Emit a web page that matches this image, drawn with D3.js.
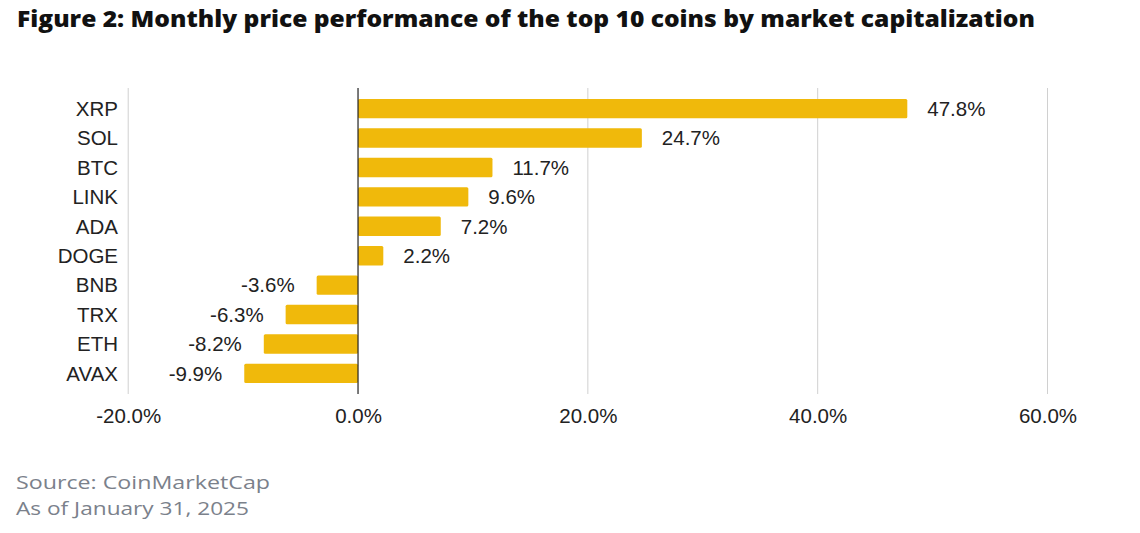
<!DOCTYPE html>
<html><head><meta charset="utf-8">
<script src="https://cdn.jsdelivr.net/npm/d3@7"></script>
<style>html,body{margin:0;padding:0;background:#fff;}</style>
</head><body>
<svg id="c" width="1140" height="533"></svg>
<script>
const categories = ["XRP","SOL","BTC","LINK","ADA","DOGE","BNB","TRX","ETH","AVAX"];
const values = [47.8, 24.7, 11.7, 9.6, 7.2, 2.2, -3.6, -6.3, -8.2, -9.9];
const tickValues = [-20, 0, 20, 40, 60];
const title = "Figure 2: Monthly price performance of the top 10 coins by market capitalization";
const notes = ["Source: CoinMarketCap", "As of January 31, 2025"];
const noteWidths = [254, 233];

const svg = d3.select("#c");
const x = d3.scaleLinear().domain([-20, 60]).range([128.2, 1047.5]);
const y = d3.scaleBand().domain(categories).range([88.5, 393.5]).paddingInner(0.34).paddingOuter(0.355);

svg.append("rect").attr("width",1140).attr("height",533).attr("fill","#fff");

// title
svg.append("text").attr("x",17).attr("y",27)
  .attr("font-family","'Open Sans', sans-serif").attr("font-weight",800)
  .attr("font-size",23.5).attr("fill","#111").text(title)
  .attr("textLength",1018).attr("lengthAdjust","spacingAndGlyphs");

// gridlines
svg.append("g").selectAll("line").data(tickValues.filter(d=>d!==0)).join("line")
  .attr("x1",d=>x(d)).attr("x2",d=>x(d)).attr("y1",88).attr("y2",394)
  .attr("stroke","#d0d0d0").attr("stroke-width",1);

// bars
svg.append("g").selectAll("rect").data(categories).join("rect")
  .attr("x",(d,i)=>x(Math.min(0,values[i])))
  .attr("y",d=>y(d))
  .attr("width",(d,i)=>Math.abs(x(values[i])-x(0)))
  .attr("height",y.bandwidth())
  .attr("rx",1.5)
  .attr("fill","#F0B90B");

// zero line
svg.append("line").attr("x1",x(0)).attr("x2",x(0)).attr("y1",88).attr("y2",394)
  .attr("stroke","#222").attr("stroke-width",1.2);

const fs = 20.5;
// value labels
svg.append("g").selectAll("text").data(categories).join("text")
  .attr("x",(d,i)=>values[i]>=0 ? x(values[i])+20 : x(values[i])-22)
  .attr("y",d=>y(d)+y.bandwidth()/2)
  .attr("dy","0.36em")
  .attr("text-anchor",(d,i)=>values[i]>=0?"start":"end")
  .attr("font-family","'Liberation Sans', Arial, sans-serif").attr("font-size",fs)
  .attr("fill","#222")
  .text((d,i)=>values[i].toFixed(1)+"%");

// category axis labels
svg.append("g").selectAll("text").data(categories).join("text")
  .attr("x",118).attr("y",d=>y(d)+y.bandwidth()/2).attr("dy","0.36em")
  .attr("text-anchor","end")
  .attr("font-family","'Liberation Sans', Arial, sans-serif").attr("font-size",fs)
  .attr("fill","#222").text(d=>d);

// x axis
const xAxis = d3.axisBottom(x).tickValues(tickValues).tickSize(0).tickFormat(d=>d.toFixed(1)+"%");
const ax = svg.append("g").attr("transform","translate(0,399)").call(xAxis);
ax.select(".domain").remove();
ax.selectAll("text").attr("font-family","'Liberation Sans', Arial, sans-serif")
  .attr("font-size",fs).attr("fill","#222").attr("dy","1em");

// notes
svg.append("g").selectAll("text").data(notes).join("text")
  .attr("x",16).attr("y",(d,i)=>489+i*25.5)
  .attr("font-family","'Open Sans', sans-serif").attr("font-size",18.5)
  .attr("fill","#7b818b").text(d=>d)
  .attr("textLength",(d,i)=>noteWidths[i]).attr("lengthAdjust","spacingAndGlyphs");
</script>
</body></html>
